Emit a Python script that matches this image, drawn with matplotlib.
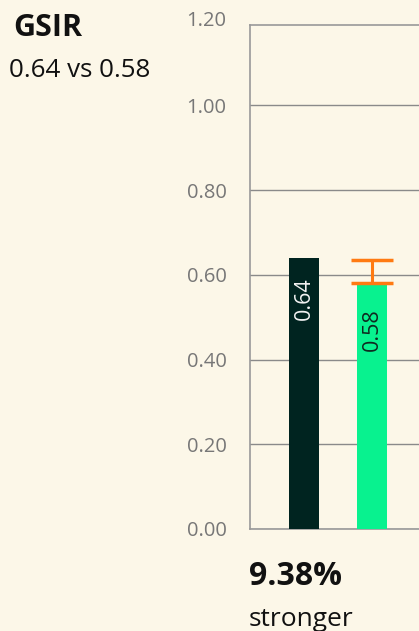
import numpy as np
import matplotlib.pyplot as plt

plt.rcParams['font.family'] = ['Open Sans', 'DejaVu Sans']

# values
categories = ['A', 'B']
values = [0.64, 0.58]
err_low = [0.0]
err_high = [0.055]
bar_colors = ['#002420', '#08F28F']
label_colors = ['#F2F2F2', '#0F2A20']
label_offsets = [-14, -18]
yticks = [0.0, 0.2, 0.4, 0.6, 0.8, 1.0, 1.2]

title = 'GSIR'
subtitle = '0.64 vs 0.58'
change = '9.38%'
change_word = 'stronger'

bg = '#FCF7E8'
W, H = 419, 631

fig = plt.figure(figsize=(W / 100, H / 100), dpi=100, facecolor=bg)
# axes runs off the right edge of the figure
ax = fig.add_axes([250 / W, (H - 529) / H, 224 / W, (529 - 25) / H])
ax.set_facecolor('none')

x = np.arange(len(categories))
ax.bar(x, values, width=0.44, color=bar_colors, zorder=3)
ax.errorbar(x[1], values[1], yerr=[err_low, err_high], fmt='none',
            ecolor='#FF7A12', elinewidth=2.2, capsize=15, capthick=2.5, zorder=4)

for xi, v, c, off in zip(x, values, label_colors, label_offsets):
    ax.annotate(f'{v:.2f}', (xi, v), xytext=(0, off), textcoords='offset points',
                rotation=90, ha='center', va='top', color=c, fontsize=15.5, zorder=5)

ax.set_xlim(-0.794, 2.5)
ax.set_ylim(0, 1.19)
ax.set_yticks(yticks[:-1])
ax.set_yticklabels([f'{t:.2f}' for t in yticks[:-1]])
ax.tick_params(axis='y', length=0, pad=17, labelsize=14.5, labelcolor='#777777')
ax.set_xticks([])
# top tick sits just above the frame
ax.annotate(f'{yticks[-1]:.2f}', (0, yticks[-1]), xycoords=ax.get_yaxis_transform(),
            xytext=(-17, 0), textcoords='offset points',
            ha='right', va='center', fontsize=14.5, color='#777777', annotation_clip=False)

ax.grid(axis='y', color='#8A8A8A', linewidth=1, zorder=0)
for side in ['left', 'bottom', 'top']:
    ax.spines[side].set_color('#999999')
    ax.spines[side].set_linewidth(1.2)
ax.spines['right'].set_visible(False)

fig.text(13 / W, 1 - 36 / H, title, fontsize=22, fontweight='bold', color='#111111',
         ha='left', va='baseline')
fig.text(9 / W, 1 - 77 / H, subtitle, fontsize=18.7, color='#111111',
         ha='left', va='baseline')
fig.text(249 / W, 1 - 585 / H, change, fontsize=23, fontweight='bold', color='#111111',
         ha='left', va='baseline')
fig.text(249 / W, 1 - 626 / H, change_word, fontsize=19, color='#111111',
         ha='left', va='baseline')

fig.savefig('out.png', dpi=100, facecolor=bg)
